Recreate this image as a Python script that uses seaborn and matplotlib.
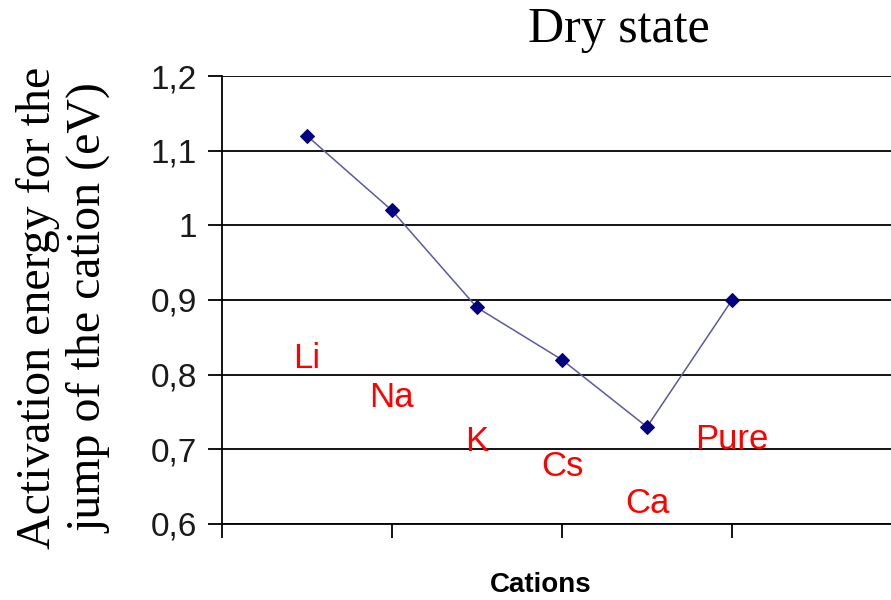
import pandas as pd
import seaborn as sns
import matplotlib.pyplot as plt

cations = ["Li", "Na", "K", "Cs", "Ca", "Pure"]
energy = [1.12, 1.02, 0.89, 0.82, 0.73, 0.90]
# where the red names sit (y, in eV), below / beside each point
label_y = [0.822, 0.770, 0.710, 0.677, 0.628, 0.713]
y_ticks = [0.6, 0.7, 0.8, 0.9, 1.0, 1.1, 1.2]
y_tick_labels = ["0,6", "0,7", "0,8", "0,9", "1", "1,1", "1,2"]

df = pd.DataFrame({"cation": cations, "energy": energy})
df["pos"] = range(1, len(df) + 1)

sns.set_theme(style="white")
plt.rcParams["font.family"] = ["Liberation Sans", "DejaVu Sans"]
plt.rcParams["text.color"] = "black"
plt.rcParams["ytick.labelcolor"] = "#1a1a1a"

fig = plt.figure(figsize=(8.91, 6), dpi=100)
ax = fig.add_axes([0.249, 0.1267, 0.751, 0.7466])

sns.lineplot(data=df, x="pos", y="energy", ax=ax, color="#5b5b9c", linewidth=1.1,
             marker="D", markersize=7, markerfacecolor="#000080",
             markeredgecolor="#000080")

for xi, name, ly in zip(df["pos"], cations, label_y):
    ax.text(xi, ly, name, color="#ff0000", fontsize=25, ha="center", va="center")

ax.set_xlim(0, 7.87)
ax.set_ylim(0.6, 1.2)
ax.set_xticks([0, 2, 4, 6])
ax.set_xticklabels([])
ax.set_yticks(y_ticks)
ax.set_yticklabels(y_tick_labels, fontsize=24)
ax.yaxis.grid(True, color="black", linewidth=1.3)
ax.set_axisbelow(True)
ax.tick_params(axis="both", direction="out", length=10, width=1.3, color="black",
               left=True, bottom=True, pad=8)
for side in ["top", "right"]:
    ax.spines[side].set_visible(False)
for side in ["left", "bottom"]:
    ax.spines[side].set_color("black")
    ax.spines[side].set_linewidth(1.3)

ax.set_xlabel("")
ax.set_ylabel("")
fig.text(541 / 891, 1 - 585 / 600, "Cations", fontsize=20, fontweight="bold",
         color="black", ha="center", va="center")
fig.text(619 / 891, 1 - 30 / 600, "Dry state", fontsize=36, color="black",
         family=["Liberation Serif", "DejaVu Serif"], ha="center", va="center")
fig.text(64 / 891, 1 - 308 / 600, "Activation energy for the\njump of the cation (eV)",
         fontsize=34.5, family=["Liberation Serif", "DejaVu Serif"], rotation=90,
         color="black", ha="center", va="center", multialignment="center",
         linespacing=1.2)

fig.savefig("out.png", dpi=100)
